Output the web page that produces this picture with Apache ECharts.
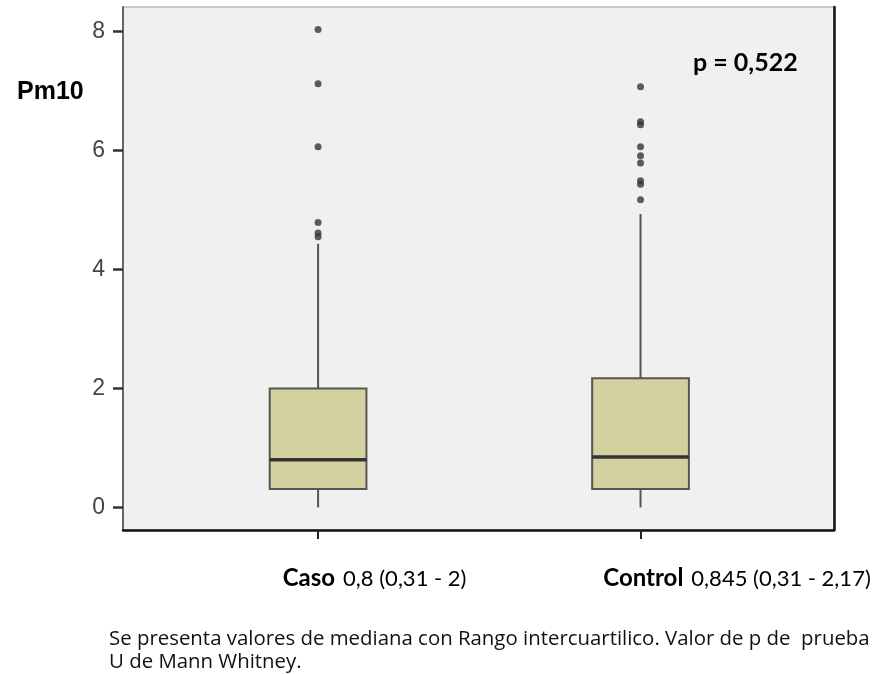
<!DOCTYPE html>
<html><head><meta charset="utf-8">
<script src="https://cdn.jsdelivr.net/npm/echarts@6/dist/echarts.min.js"></script>
<style>html,body{margin:0;padding:0;background:#fff}#c{width:878px;height:674px}</style>
</head><body><div id="c"></div>
<script>
const categories = ['Caso', 'Control'];
const categoryStats = ['0,8 (0,31 - 2)', '0,845 (0,31 - 2,17)'];
// each row: [min, Q1, median, Q3, max]
const casoBox = [0, 0.31, 0.80, 2.00, 4.43];
const controlBox = [0, 0.31, 0.845, 2.17, 4.93];
const casoOutliers = [8.03, 7.12, 6.06, 4.79, 4.61, 4.55];
const controlOutliers = [7.07, 6.48, 6.43, 6.06, 5.91, 5.79, 5.49, 5.43, 5.17];
const yTicks = [0, 2, 4, 6, 8];
const xTicks = [0, 1];
const yName = 'Pm10';
const pValueText = 'p = 0,522';
const captionLines = ['Se presenta valores de mediana con Rango intercuartilico. Valor de p de  prueba', 'U de Mann Whitney.'];

const boxData = [[0].concat(casoBox), [1].concat(controlBox)];
const outlierData = casoOutliers.map(v => [0, v]).concat(controlOutliers.map(v => [1, v]));

const chart = echarts.init(document.getElementById('c'), null, {renderer: 'canvas'});
const yMin = -0.38, yMax = 8.41;
chart.setOption({
  animation: false,
  backgroundColor: '#fff',
  title: [
    {text: yName, left: 12, top: 75, textStyle: {fontFamily: 'Liberation Sans', fontWeight: 'bold', fontSize: 25, color: '#000'}},
    {text: pValueText, left: 688, top: 45, textStyle: {fontFamily: 'Lato', fontWeight: 'bold', fontSize: 25, color: '#000'}},
    {text: captionLines.join('\n'), left: 104, top: 623, textStyle: {fontFamily: 'Open Sans', fontWeight: 'normal', fontSize: 20.4, lineHeight: 23, color: '#111'}}
  ],
  grid: {left: 123, right: 44, top: 7, bottom: 144, show: true, backgroundColor: '#f0f0f0', borderColor: '#999', borderWidth: 1},
  xAxis: {
    type: 'value', min: -0.605, max: 1.6,
    splitLine: {show: false},
    axisLine: {show: true, onZero: false, lineStyle: {color: '#111', width: 2.5}},
    axisTick: {show: true, customValues: xTicks, length: 9, lineStyle: {color: '#222', width: 2}},
    axisLabel: {
      customValues: xTicks, margin: 33,
      formatter: function (v) {
        const i = Math.round(v);
        return '{sp' + i + '|}{b|' + categories[i] + '}{s|' + categoryStats[i] + '}';
      },
      rich: {
        sp0: {width: 113},
        sp1: {width: 193},
        b: {fontFamily: 'Lato', fontWeight: 'bold', fontSize: 24, color: '#000', verticalAlign: 'bottom', lineHeight: 27},
        s: {fontFamily: 'Lato', fontSize: 22, color: '#000', padding: [0, 0, 0, 8], verticalAlign: 'bottom', lineHeight: 21}
      }
    }
  },
  yAxis: [{
    type: 'value', min: yMin, max: yMax,
    splitLine: {show: false},
    axisLine: {show: true, onZero: false, lineStyle: {color: '#666', width: 2}},
    axisTick: {show: true, customValues: yTicks, length: 10, lineStyle: {color: '#333', width: 2.5}},
    axisLabel: {customValues: yTicks, margin: 18, fontFamily: 'Liberation Sans', fontSize: 23, color: '#444'}
  }, {
    type: 'value', min: yMin, max: yMax, position: 'right',
    splitLine: {show: false},
    axisLine: {show: true, onZero: false, lineStyle: {color: '#111', width: 2.5}},
    axisTick: {show: false}, axisLabel: {show: false}
  }],
  series: [{
    type: 'custom',
    data: boxData,
    encode: {x: 0, y: [1, 2, 3, 4, 5]},
    renderItem: function (params, api) {
      const x = api.value(0);
      const pMin = api.coord([x, api.value(1)]);
      const pQ1 = api.coord([x, api.value(2)]);
      const pMed = api.coord([x, api.value(3)]);
      const pQ3 = api.coord([x, api.value(4)]);
      const pMax = api.coord([x, api.value(5)]);
      const half = api.size([0.3, 0])[0] / 2;
      const cx = pMin[0];
      const ls = {stroke: '#555', lineWidth: 2};
      return {type: 'group', children: [
        {type: 'line', shape: {x1: cx, y1: pMin[1], x2: cx, y2: pQ1[1]}, style: ls},
        {type: 'line', shape: {x1: cx, y1: pQ3[1], x2: cx, y2: pMax[1]}, style: ls},
        {type: 'rect', shape: {x: cx - half, y: pQ3[1], width: 2 * half, height: pQ1[1] - pQ3[1]}, style: {fill: '#d4d1a0', stroke: '#555', lineWidth: 2}},
        {type: 'line', shape: {x1: cx - half, y1: pMed[1], x2: cx + half, y2: pMed[1]}, style: {stroke: '#333', lineWidth: 3.5}}
      ]};
    }
  }, {
    type: 'scatter',
    data: outlierData,
    symbol: 'circle', symbolSize: 7,
    itemStyle: {color: '#363636'}
  }]
});
</script></body></html>
